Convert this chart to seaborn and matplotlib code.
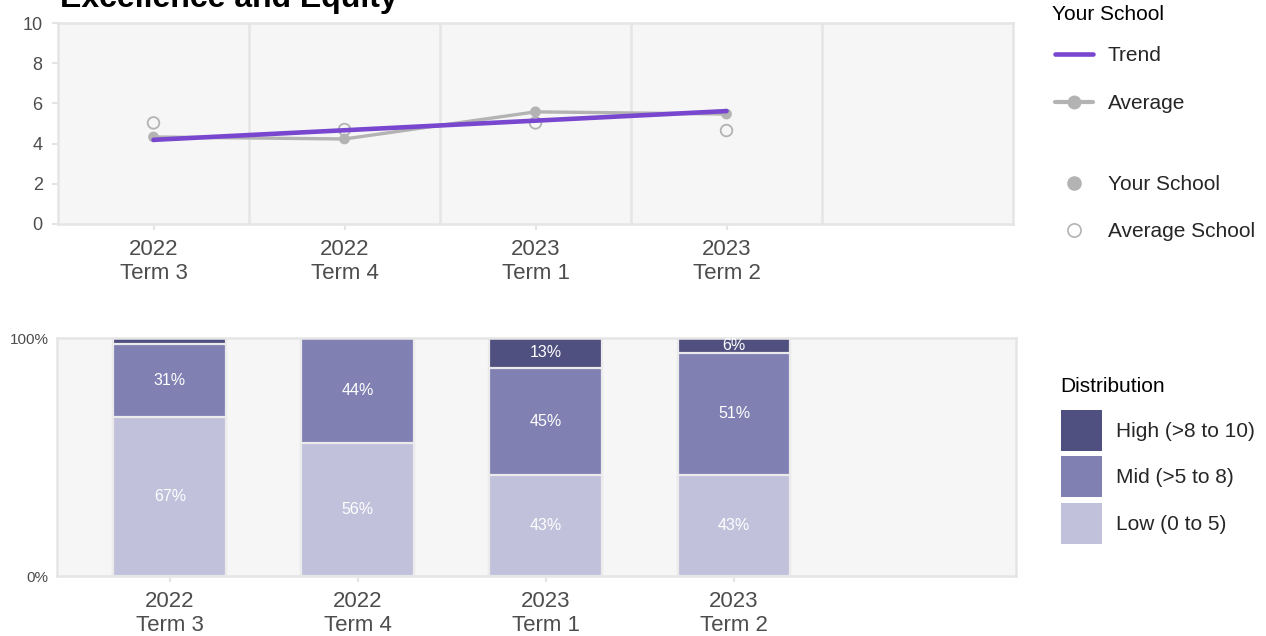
import matplotlib.pyplot as plt
import seaborn as sns
import pandas as pd
from matplotlib.lines import Line2D
from matplotlib.patches import Patch

terms = ["2022\nTerm 3", "2022\nTerm 4", "2023\nTerm 1", "2023\nTerm 2"]
your_school = [4.33, 4.23, 5.58, 5.47]
average_school = [5.03, 4.70, 5.03, 4.65]

low_pct = [66.6, 56.0, 42.6, 42.6]
mid_pct = [31.0, 44.0, 44.8, 51.0]
high_pct = [2.4, 0.0, 12.6, 6.4]
band_labels = ["High (>8 to 10)", "Mid (>5 to 8)", "Low (0 to 5)"]
band_colors = ["#4F4F80", "#8080B3", "#C1C1DC"]

purple = "#7846CF"
grey = "#B3B3B3"
panel_bg = "#F6F6F6"
border = "#E5E5E5"
tick_col = "#4D4D4D"

sns.set_theme(style="white")
plt.rcParams['font.family'] = ['Liberation Sans', 'DejaVu Sans']

fig = plt.figure(figsize=(12.66, 6.36), dpi=100)
ax1 = fig.add_axes([58 / 1266, 1 - 224 / 636, 955 / 1266, 201 / 636])
ax2 = fig.add_axes([57 / 1266, 1 - 576 / 636, 959 / 1266, 238 / 636])

df = pd.DataFrame({'pos': range(len(terms)), 'term': terms,
                   'yours': your_school, 'avg': average_school})

# top panel: scores
sns.lineplot(data=df, x='pos', y='yours', color=grey, linewidth=2.4, ax=ax1, zorder=2)
sns.scatterplot(data=df, x='pos', y='yours', color=grey, s=60, edgecolor='none', ax=ax1, zorder=3)
sns.scatterplot(data=df, x='pos', y='avg', color=grey, facecolor='none', edgecolor=grey,
                s=70, linewidth=1.3, ax=ax1, zorder=3)
sns.regplot(data=df, x='pos', y='yours', scatter=False, ci=None, color=purple,
            line_kws={'linewidth': 3.3, 'zorder': 4}, ax=ax1)

ax1.set_xlim(-0.5, 4.5)
ax1.set_ylim(0, 10)
ax1.set_xticks(range(len(terms)))
ax1.set_xticklabels(terms)
ax1.set_yticks(range(0, 11, 2))
ax1.set_xticks([0.5, 1.5, 2.5, 3.5], minor=True)
ax1.grid(which='minor', axis='x', color=border, linewidth=1.8)
ax1.set_facecolor(panel_bg)
ax1.set_xlabel('')
ax1.set_ylabel('')
ax1.tick_params(axis='x', which='major', labelsize=16, colors=border, labelcolor=tick_col,
                length=4, width=1.5, pad=7, bottom=True)
ax1.tick_params(axis='y', labelsize=13, colors=border, labelcolor=tick_col,
                length=4, width=1.5, pad=7, left=True)
ax1.tick_params(which='minor', length=0)
for s in ax1.spines.values():
    s.set_color(border)
    s.set_linewidth(1.8)

# bottom panel: stacked distribution
cum_mid = [l + m for l, m in zip(low_pct, mid_pct)]
cum_high = [c + h for c, h in zip(cum_mid, high_pct)]
for tops, col in zip([cum_high, cum_mid, low_pct], band_colors):
    sns.barplot(x=terms, y=tops, color=col, width=0.6, errorbar=None,
                edgecolor='#EBEBEB', linewidth=1.6, saturation=1, ax=ax2)

for i in range(len(terms)):
    bottoms = [0, low_pct[i], cum_mid[i]]
    for b, v in zip(bottoms, [low_pct[i], mid_pct[i], high_pct[i]]):
        if v >= 5:
            ax2.text(i, b + v / 2, f"{round(v)}%", ha='center', va='center',
                     color='white', fontsize=11.5)

ax2.set_xlim(-0.6, 4.5)
ax2.set_ylim(0, 100)
ax2.set_yticks([0, 100])
ax2.set_yticklabels(['0%', '100%'])
ax2.set_facecolor(panel_bg)
ax2.set_xlabel('')
ax2.set_ylabel('')
ax2.tick_params(axis='x', labelsize=16, colors=border, labelcolor=tick_col,
                length=4, width=1.5, pad=6.5, bottom=True)
ax2.tick_params(axis='y', labelsize=11, labelcolor=tick_col, length=0, pad=6)
for s in ax2.spines.values():
    s.set_color(border)
    s.set_linewidth(1.8)

# title
fig.text(60 / 1266, 1 - 7 / 636, "Excellence and Equity", fontsize=23,
         fontweight='bold', color='black', ha='left', va='baseline')

# legends
leg_kw = dict(frameon=False, borderpad=0, fontsize=15, handletextpad=0.7,
              handlelength=1.83, borderaxespad=0)
fig.text(1052 / 1266, 1 - 14 / 636, "Your School", fontsize=15, color='black',
         ha='left', va='center')
h1 = [Line2D([], [], color=purple, lw=3.3),
      Line2D([], [], color=grey, lw=3, marker='o', markersize=9)]
fig.legend(h1, ['Trend', 'Average'], loc='upper left',
           bbox_to_anchor=(1055 / 1266, 1 - 46 / 636), labelspacing=1.4, **leg_kw)
h2 = [Line2D([], [], ls='none', marker='o', color=grey, markersize=9.5),
      Line2D([], [], ls='none', marker='o', markerfacecolor='none',
             markeredgecolor=grey, markersize=9.5, markeredgewidth=1.2)]
fig.legend(h2, ['Your School', 'Average School'], loc='upper left',
           bbox_to_anchor=(1055 / 1266, 1 - 175 / 636), labelspacing=1.35, **leg_kw)

fig.text(1060 / 1266, 1 - 386 / 636, "Distribution", fontsize=15, color='black',
         ha='left', va='center')
h3 = [Patch(facecolor=c, edgecolor='none') for c in band_colors]
fig.legend(h3, band_labels, loc='upper left',
           bbox_to_anchor=(1061 / 1266, 1 - 410 / 636),
           frameon=False, borderpad=0, fontsize=15,
           handletextpad=0.67, handlelength=1.97, handleheight=2.65,
           labelspacing=0.26, borderaxespad=0)

plt.savefig("out.png", dpi=100)
